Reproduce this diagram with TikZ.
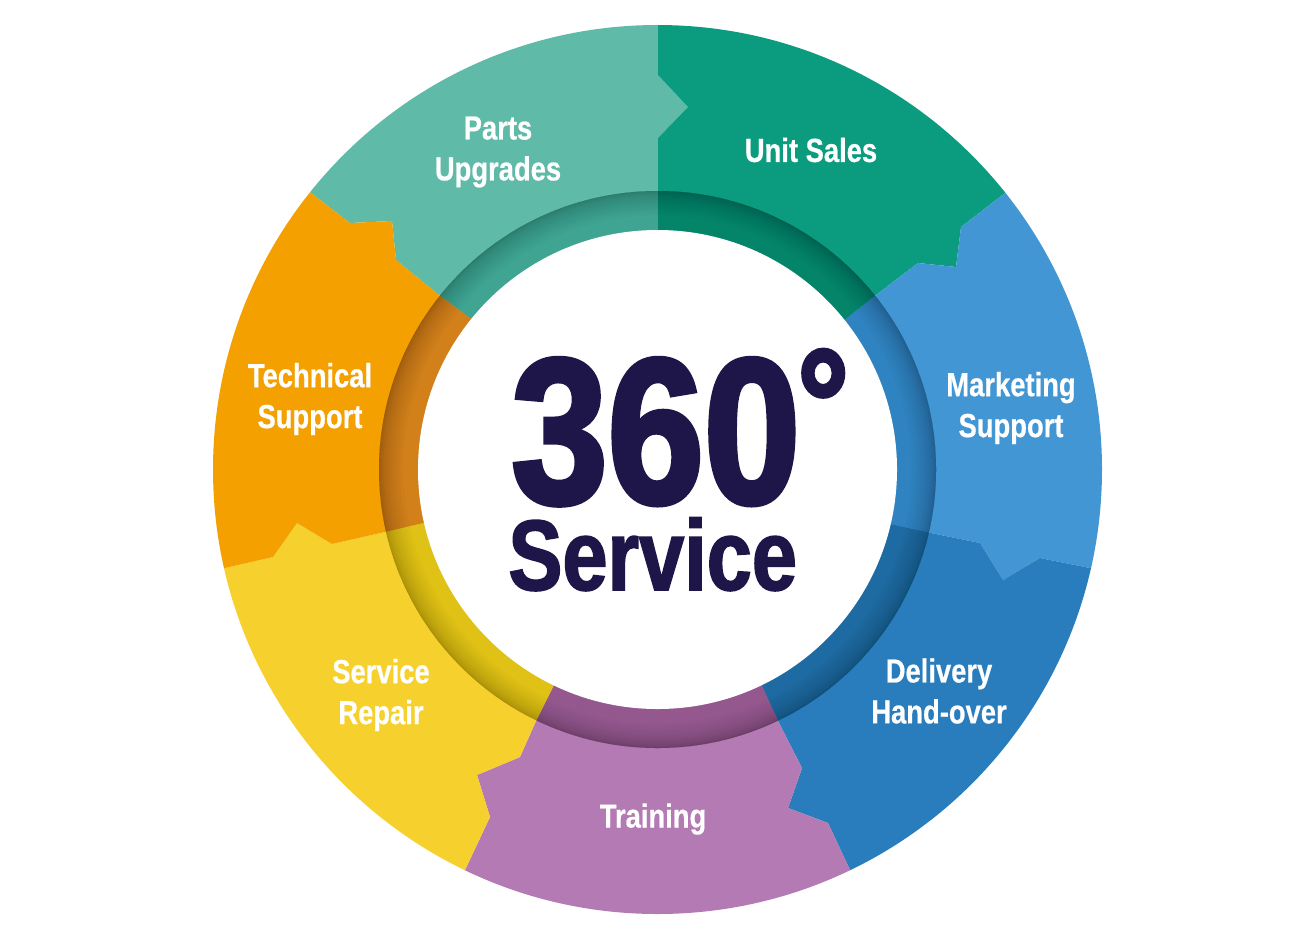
\documentclass[tikz,border=0pt]{standalone}
\usepackage{fontspec}
\newfontfamily\labelfont[FakeStretch=0.82,FakeBold=0.5]{Liberation Sans Bold}
\newfontfamily\herofont[FakeStretch=0.835,FakeBold=2.4]{Liberation Sans Bold}
\newfontfamily\servfont[FakeStretch=0.81,FakeBold=1.6]{Liberation Sans Bold}
\usetikzlibrary{calc}
\definecolor{cteal}{HTML}{5FBAA8}
\definecolor{cgreen}{HTML}{0B9C7F}
\definecolor{cblue}{HTML}{4396D4}
\definecolor{cdblue}{HTML}{2A7DBC}
\definecolor{cpurple}{HTML}{B47AB3}
\definecolor{cyellow}{HTML}{F6D12E}
\definecolor{corange}{HTML}{F3A000}
\definecolor{rteal}{HTML}{3FA592}
\definecolor{rgreen}{HTML}{04856A}
\definecolor{rblue}{HTML}{2E83C0}
\definecolor{rdblue}{HTML}{1E6BA3}
\definecolor{rpurple}{HTML}{94588F}
\definecolor{ryellow}{HTML}{E0C115}
\definecolor{rorange}{HTML}{D2801A}
\definecolor{cnavy}{HTML}{1E1548}
\tikzset{
  seglabel/.style={text=white,font=\labelfont\fontsize{19pt}{23.3pt}\selectfont,align=center,inner sep=0pt},
  herotext/.style={text=cnavy,inner sep=0pt,anchor=base west},
}
\newcommand{\ringsector}[5]{\fill[#1] (C) -- (#2) -- (#3) -- ($(C)!1.3!(#3)$) -- ($(C)!1.3!(#4)$) -- (#4) -- (#5) -- cycle;}
\begin{document}
\begin{tikzpicture}[x=0.02cm,y=-0.02cm]
\useasboundingbox (0,0) rectangle (1300,940);
\coordinate (C) at (657.5,469.5);
% teal / green
\coordinate (a1) at (658,231); \coordinate (a2) at (658,138); \coordinate (a3) at (688,107); \coordinate (a4) at (658,75); \coordinate (a5) at (658,25);
% green / blue
\coordinate (b1) at (847,318); \coordinate (b2) at (876,295); \coordinate (b3) at (918,263); \coordinate (b4) at (956,267); \coordinate (b5) at (961,227); \coordinate (b6) at (1005,193);
% blue / dark blue
\coordinate (c1) at (890,524); \coordinate (c2) at (931,533); \coordinate (c3) at (980,543); \coordinate (c4) at (1003,580); \coordinate (c5) at (1040,558); \coordinate (c6) at (1090,568);
% dark blue / purple
\coordinate (d1) at (762,686); \coordinate (d2) at (778,721); \coordinate (d3) at (802,768); \coordinate (d4) at (788,808); \coordinate (d5) at (828,823); \coordinate (d6) at (850,870);
% purple / yellow
\coordinate (e1) at (553,687); \coordinate (e2) at (536,721); \coordinate (e3) at (520,757); \coordinate (e4) at (477,775); \coordinate (e5) at (490,817); \coordinate (e6) at (465,870);
% yellow / orange
\coordinate (f1) at (423,523); \coordinate (f2) at (385,532); \coordinate (f3) at (332,544); \coordinate (f4) at (297,523); \coordinate (f5) at (273,557); \coordinate (f6) at (225,568);
% orange / teal
\coordinate (g1) at (470,318); \coordinate (g2) at (439,295); \coordinate (g3) at (396,260); \coordinate (g4) at (392,221); \coordinate (g5) at (350,223); \coordinate (g6) at (311,193);
\begin{scope}
\clip (C) circle [radius=444.5];
\fill[cteal] (C) -- (g1) -- (g2) -- (g3) -- (g4) -- (g5) -- (g6) -- ($(C)!1.3!(g6)$) -- ($(C)!1.3!(a5)$) -- (a5) -- (a4) -- (a3) -- (a2) -- (a1) -- cycle;
\fill[cgreen] (C) -- (a1) -- (a2) -- (a3) -- (a4) -- (a5) -- ($(C)!1.3!(a5)$) -- ($(C)!1.3!(b6)$) -- (b6) -- (b5) -- (b4) -- (b3) -- (b2) -- (b1) -- cycle;
\fill[cblue] (C) -- (b1) -- (b2) -- (b3) -- (b4) -- (b5) -- (b6) -- ($(C)!1.3!(b6)$) -- ($(C)!1.3!(c6)$) -- (c6) -- (c5) -- (c4) -- (c3) -- (c2) -- (c1) -- cycle;
\fill[cdblue] (C) -- (c1) -- (c2) -- (c3) -- (c4) -- (c5) -- (c6) -- ($(C)!1.3!(c6)$) -- ($(C)!1.3!(d6)$) -- (d6) -- (d5) -- (d4) -- (d3) -- (d2) -- (d1) -- cycle;
\fill[cpurple] (C) -- (d1) -- (d2) -- (d3) -- (d4) -- (d5) -- (d6) -- ($(C)!1.3!(d6)$) -- ($(C)!1.3!(e6)$) -- (e6) -- (e5) -- (e4) -- (e3) -- (e2) -- (e1) -- cycle;
\fill[cyellow] (C) -- (e1) -- (e2) -- (e3) -- (e4) -- (e5) -- (e6) -- ($(C)!1.3!(e6)$) -- ($(C)!1.3!(f6)$) -- (f6) -- (f5) -- (f4) -- (f3) -- (f2) -- (f1) -- cycle;
\fill[corange] (C) -- (f1) -- (f2) -- (f3) -- (f4) -- (f5) -- (f6) -- ($(C)!1.3!(f6)$) -- ($(C)!1.3!(g6)$) -- (g6) -- (g5) -- (g4) -- (g3) -- (g2) -- (g1) -- cycle;
\end{scope}
% ring: each sector in its darker tone, then a shadow falling from the outer edge
\begin{scope}
\clip (C) circle [radius=278.5];
\ringsector{rteal}{g1}{g2}{a2}{a1}
\ringsector{rgreen}{a1}{a2}{b2}{b1}
\ringsector{rblue}{b1}{b2}{c2}{c1}
\ringsector{rdblue}{c1}{c2}{d2}{d1}
\ringsector{rpurple}{d1}{d2}{e2}{e1}
\ringsector{ryellow}{e1}{e2}{f2}{f1}
\ringsector{rorange}{f1}{f2}{g2}{g1}
\end{scope}
\foreach \k in {1,...,14}{
  \fill[black,opacity=.02,even odd rule] (C) circle [radius=278.5] (C) circle [radius=278.5-\k*\k/8];
}
\fill[white] (C) circle [radius=239.5];
% centre text
\node[herotext] (hero) at (511,503) {\herofont\fontsize{118pt}{118pt}\selectfont 360};
\node[herotext] (deg) at (797,457) {\herofont\fontsize{88pt}{88pt}\selectfont °};
\node[herotext] (serv) at (508,590) {\servfont\fontsize{57pt}{57pt}\selectfont Service};
% segment labels
\node[seglabel] (l1) at (498,152) {Parts\\Upgrades};
\node[seglabel] (l2) at (811,150) {Unit Sales};
\node[seglabel] (l3) at (1011,408) {Marketing\\Support};
\node[seglabel] (l4) at (939,691) {Delivery\\Hand-over};
\node[seglabel] (l5) at (653,819) {Training};
\node[seglabel] (l6) at (381,695) {Service\\Repair};
\node[seglabel] (l7) at (310,399) {Technical\\Support};
\end{tikzpicture}
\end{document}
